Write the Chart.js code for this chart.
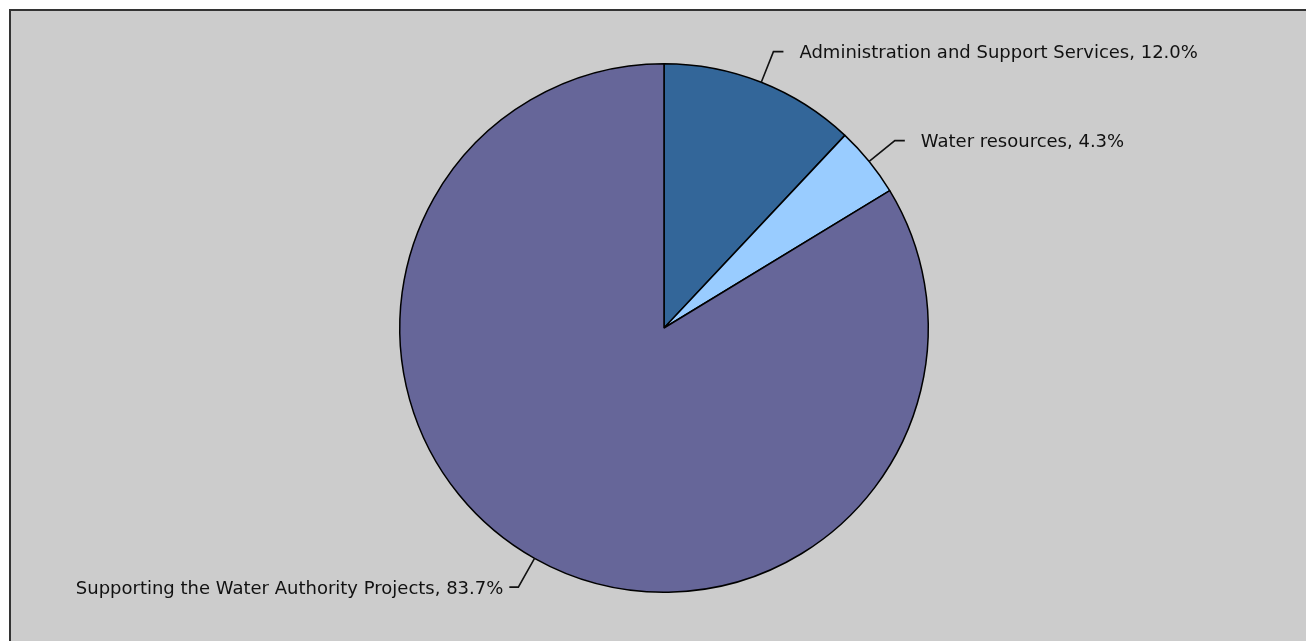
<!DOCTYPE html>
<html>
<head>
<meta charset="utf-8">
<title>Budget breakdown</title>
<script src="https://cdn.jsdelivr.net/npm/chart.js@4/dist/chart.umd.min.js"></script>
<style>
  html, body { margin: 0; padding: 0; background: #ffffff; }
  canvas { display: block; }
</style>
</head>
<body>
<canvas id="pieChart" width="1306" height="641"></canvas>
<script>
const categories = [
  'Administration and Support Services',
  'Water resources',
  'Supporting the Water Authority Projects'
];
const shares = [12.0, 4.3, 83.7];
const sliceColors = ['#336699', '#99CCFF', '#666699'];

// grey panel with a dark frame behind the pie
const panelBackground = {
  id: 'panelBackground',
  beforeDraw(chart) {
    const ctx = chart.ctx;
    ctx.save();
    ctx.fillStyle = '#333333';
    ctx.fillRect(9, 9, chart.width - 9, chart.height - 9);
    ctx.fillStyle = '#cccccc';
    ctx.fillRect(11, 11, chart.width - 11, chart.height - 11);
    ctx.restore();
  }
};

// labels outside the pie with elbow leader lines
const sliceLabels = {
  id: 'sliceLabels',
  afterDatasetsDraw(chart) {
    const ctx = chart.ctx;
    const meta = chart.getDatasetMeta(0);
    ctx.save();
    ctx.font = '18px "DejaVu Sans"';
    ctx.fillStyle = '#111111';
    ctx.strokeStyle = '#111111';
    ctx.lineWidth = 1.6;
    meta.data.forEach((arc, i) => {
      const { x, y, startAngle, endAngle, outerRadius } = arc.getProps(['x', 'y', 'startAngle', 'endAngle', 'outerRadius']);
      const mid = (startAngle + endAngle) / 2;
      const cos = Math.cos(mid), sin = Math.sin(mid);
      const ex = x + cos * outerRadius, ey = y + sin * outerRadius;
      const kx = x + cos * outerRadius * 1.125, ky = y + sin * outerRadius * 1.125;
      const right = cos >= 0;
      const hx = kx + (right ? 10 : -9);
      ctx.beginPath();
      ctx.moveTo(ex, ey);
      ctx.lineTo(kx, ky);
      ctx.lineTo(hx, ky);
      ctx.stroke();
      const text = categories[i] + ', ' + shares[i].toFixed(1) + '%';
      ctx.textBaseline = 'alphabetic';
      ctx.textAlign = right ? 'left' : 'right';
      ctx.fillText(text, right ? hx + 16 : hx - 6, ky + 6.5);
    });
    ctx.restore();
  }
};

new Chart(document.getElementById('pieChart'), {
  type: 'pie',
  data: {
    labels: categories,
    datasets: [{
      data: shares,
      backgroundColor: sliceColors,
      borderColor: '#000000',
      borderWidth: 1.5
    }]
  },
  options: {
    responsive: false,
    animation: false,
    layout: { padding: { top: 63, bottom: 48, left: 399, right: 377 } },
    plugins: {
      legend: { display: false },
      tooltip: { enabled: false }
    }
  },
  plugins: [panelBackground, sliceLabels]
});
</script>
</body>
</html>
